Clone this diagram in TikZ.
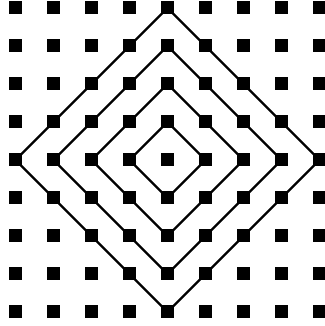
\documentclass[tikz,border=0pt]{standalone}
\begin{document}
\begin{tikzpicture}[x=1pt,y=1pt,
  sq/.style={fill=black,draw=none,minimum size=13pt,inner sep=0pt,outer sep=0pt},
  ring/.style={draw=black,line width=2.2pt,line join=miter}]
\useasboundingbox (0,0) rectangle (324,326);
\foreach \i in {0,...,8}{
  \foreach \j in {0,...,8}{
    \node[sq] (s-\i-\j) at ({15.5+38*\i},{326-8-38*\j}) {};
  }
}
\foreach \r in {1,...,4}{
  \pgfmathtruncatemacro{\l}{4-\r}
  \pgfmathtruncatemacro{\h}{4+\r}
  \draw[ring] (s-\l-4.center) -- (s-4-\l.center) -- (s-\h-4.center) -- (s-4-\h.center) -- cycle;
}
\end{tikzpicture}
\end{document}
